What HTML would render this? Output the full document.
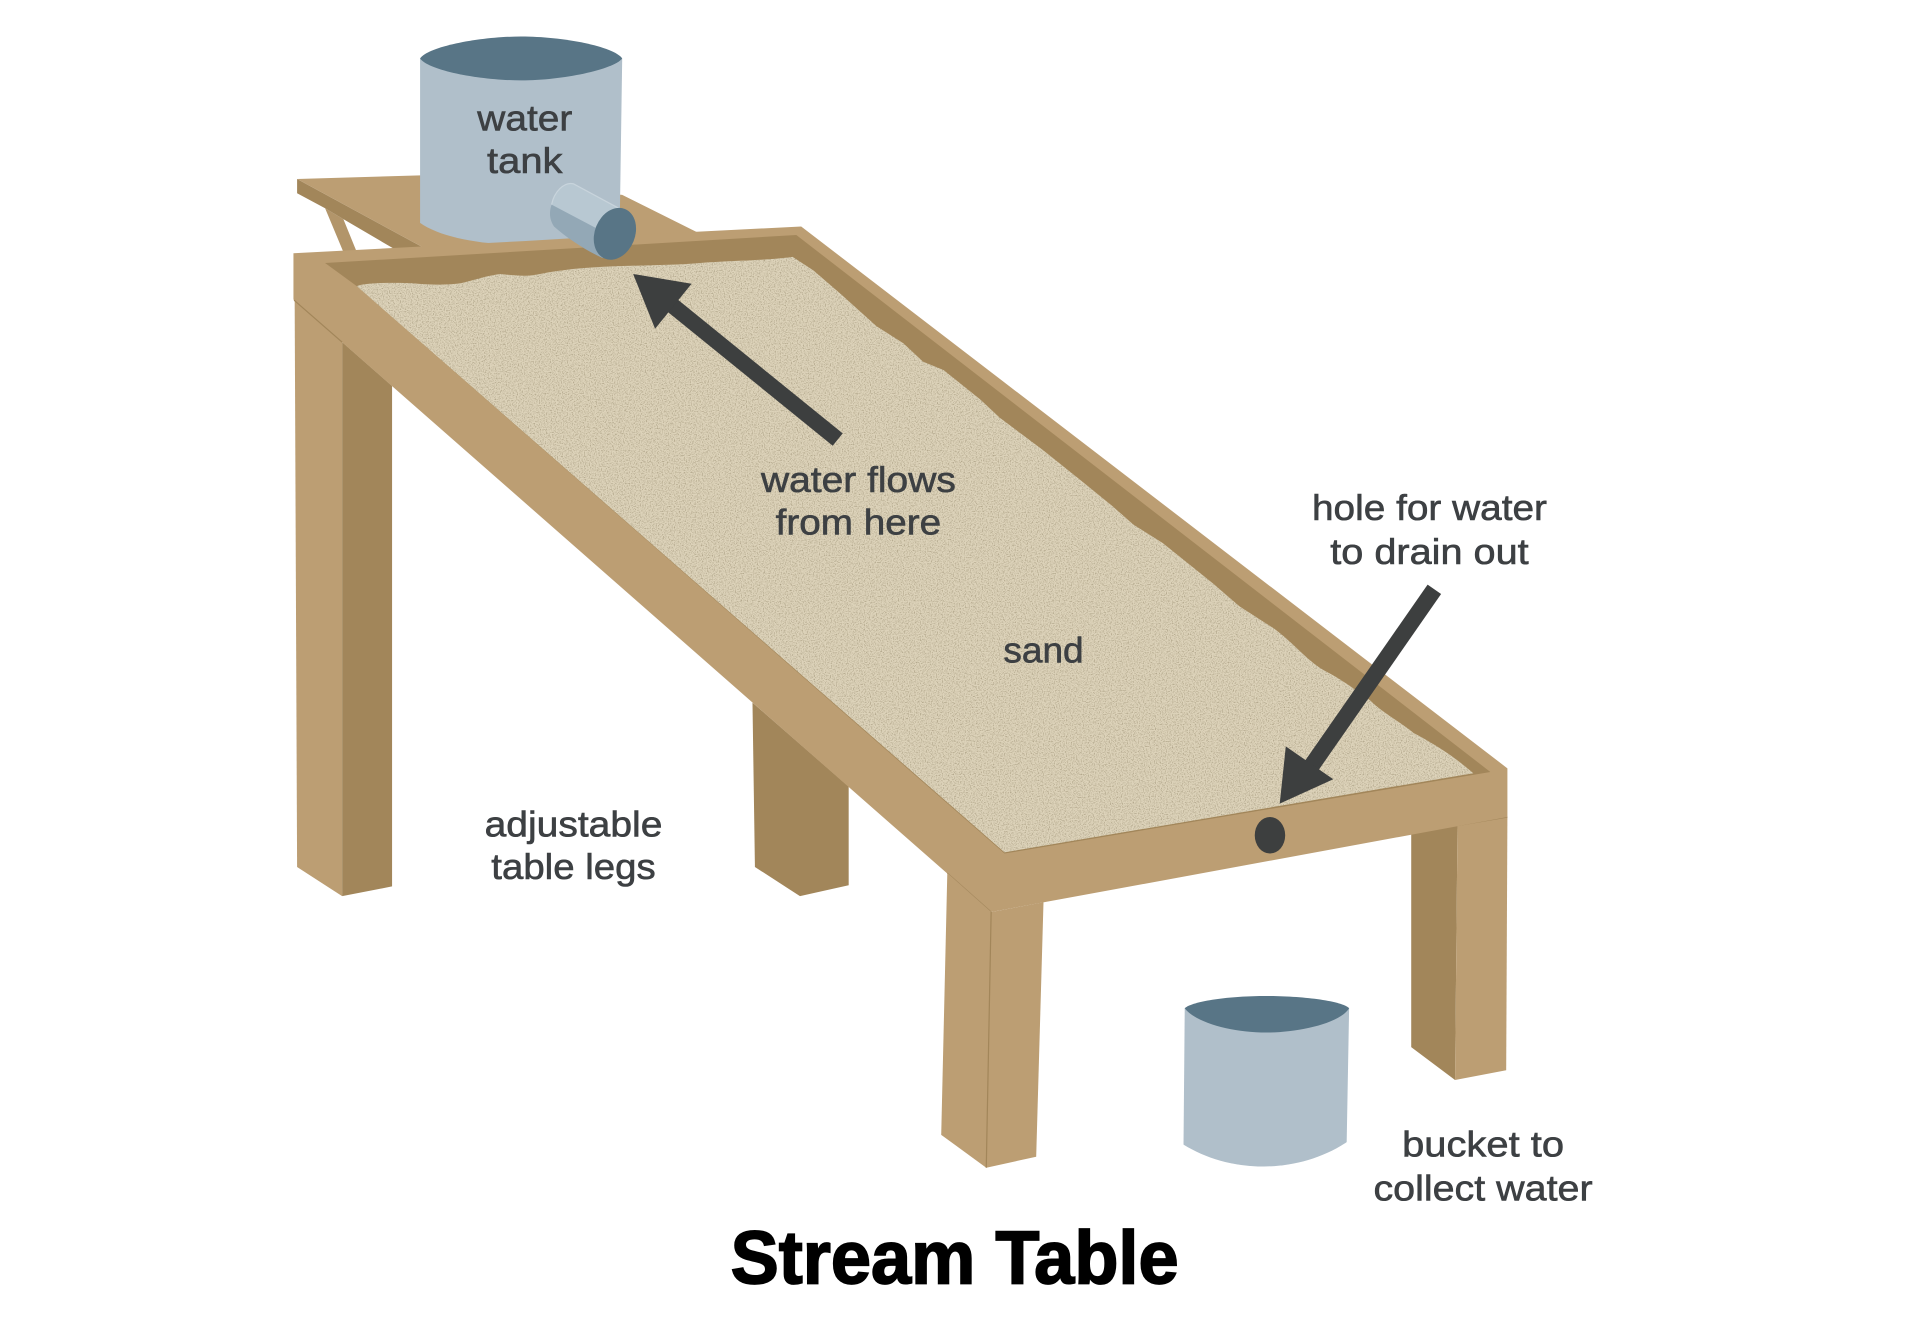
<!DOCTYPE html>
<html><head><meta charset="utf-8"><title>Stream Table</title>
<style>html,body{margin:0;padding:0;background:#fff}svg{display:block}
text{font-family:"Liberation Sans",sans-serif;fill:#3d4043;text-anchor:middle;font-size:30px;stroke:#3d4043;stroke-width:.5px}
</style></head><body>
<svg width="1908" height="1340" viewBox="0 0 1567 1100.5" xmlns="http://www.w3.org/2000/svg">
<defs>
<filter id="sand" x="0" y="0" width="100%" height="100%" color-interpolation-filters="sRGB">
<feTurbulence type="fractalNoise" baseFrequency="1.0" numOctaves="2" seed="4" result="n"/>
<feColorMatrix in="n" type="matrix" values="0 0 0 0 .45  0 0 0 0 .40  0 0 0 0 .28  1.3 0 0 0 -.60" result="d"/>
<feComposite in="d" in2="SourceAlpha" operator="in" result="dc"/>
<feMerge><feMergeNode in="SourceGraphic"/><feMergeNode in="dc"/></feMerge>
</filter>
</defs>
<rect width="1567" height="1100.5" fill="#fff"/>

<!-- platform with strut -->
<polygon points="267,171 282,180 293,207 282,207" fill="#b2956a"/>
<polygon points="244,147 244,158.7 267,171 282,180 323,204 347,203" fill="#a2865a"/>
<polygon points="244,147 345,144 511,160 575,192 480,205 347,203" fill="#bc9e73"/>

<!-- legs back -->
<polygon points="242,246 281,281 281,736 244,712" fill="#bc9e73"/>
<polygon points="281,281 322,317 322,728 281,736" fill="#a2865a"/>
<polygon points="618,577 697,646 697,727 657,736 620,712" fill="#a2865a"/>
<polygon points="1159,685 1197,678 1195,887 1159,860" fill="#a2865a"/>
<polygon points="1197,678 1238,671 1237,879 1195,887" fill="#bc9e73"/>
<line x1="1197" y1="678" x2="1238" y2="671" stroke="#a2865a" stroke-width="1"/>

<!-- tank -->
<path d="M345,48 L511,48 L509,182 C490,195 460,201 430,201 C395,201 362,195 345,183 Z" fill="#b0bfca"/>
<path d="M345,48 C352,38 395,30 428,30 C462,30 504,38 511,48 C504,57 462,66 428,66 C395,66 352,58 345,48 Z" fill="#587586"/>

<!-- frame -->
<polygon points="241,208 430,198 480,195 658,186 1238,631 1238,671 814,749 241,246" fill="#bc9e73"/>
<polygon points="267,216 654,193 1224,634 825,701 293,235" fill="#a2865a"/>
<path d="M293,235 C300,232 325,232 339,232.6 C352,234 365,234 375,233 C385,232 395,227 411,225 C420,226 430,227 437,226 C445,225 452,223 462,222 C500,217 540,219 575,216 C600,214 630,214 651,211 L668,222 L690,241 L720,268 L742,282 L758,297 L775,304 L805,328 L821,343 L857,370 L887,394 L914,416 L931,431 L955,446 L996,479 L1018,498 L1046,516 C1065,530 1075,545 1092,553 C1105,560 1115,568 1125,575 C1135,585 1150,593 1161,602 C1180,612 1195,622 1210,635 L825,700 Z" fill="#ddd3ba" filter="url(#sand)"/>
<line x1="241.5" y1="246.5" x2="281" y2="281" stroke="#a2865a" stroke-width="1"/>
<line x1="814" y1="749" x2="778" y2="717" stroke="#a68a5f" stroke-width="1"/>

<!-- front left leg -->
<polygon points="778,717 814,749 810,959 773,932" fill="#bc9e73"/>
<polygon points="814,749 857,741 851,950 810,959" fill="#bc9e73"/>
<line x1="814" y1="749" x2="810" y2="959" stroke="#a2865a" stroke-width="1"/>

<!-- pipe -->
<path d="M453,168 C455,158 463,149 471,151 L510,172 L495,212 C480,205 465,195 455,186 C451,180 451,174 453,168 Z" fill="#93a8b6"/>
<path d="M453,168 C455,158 463,149 471,151 L510,172 L489,187 Z" fill="#b8c8d2"/>
<path d="M453,168 C455,158 463,149 471,151 L510,172" fill="none" stroke="#c8d4dc" stroke-width="1"/>
<ellipse cx="505" cy="192" rx="16.5" ry="22" transform="rotate(22 505 192)" fill="#587586"/>

<!-- hole -->
<ellipse cx="1043" cy="686" rx="12.5" ry="15" fill="#3d3f3f"/>

<!-- arrows -->
<line x1="688" y1="361" x2="545" y2="245" stroke="#3d3f3f" stroke-width="13"/>
<polygon points="520,225 568,233 538,270" fill="#3d3f3f"/>
<line x1="1178" y1="484" x2="1075" y2="632" stroke="#3d3f3f" stroke-width="13.5"/>
<polygon points="1051,660 1056,613 1095,640" fill="#3d3f3f"/>

<!-- bucket -->
<path d="M973,828 L1108,828 L1106,938 C1085,952 1060,958 1038,958 C1012,958 990,951 972,940 Z" fill="#b0bfca"/>
<path d="M973,828 C980,822 1010,818 1040,818 C1070,818 1102,822 1108,828 C1100,841 1065,848 1040,848 C1012,848 982,840 973,828 Z" fill="#587586"/>

<!-- labels -->
<text x="431" y="107" textLength="78" lengthAdjust="spacingAndGlyphs">water</text>
<text x="431" y="142" textLength="62" lengthAdjust="spacingAndGlyphs">tank</text>
<text x="705" y="404" textLength="160" lengthAdjust="spacingAndGlyphs">water flows</text>
<text x="705" y="439" textLength="136" lengthAdjust="spacingAndGlyphs">from here</text>
<text x="1174" y="427" textLength="193" lengthAdjust="spacingAndGlyphs">hole for water</text>
<text x="1174" y="463" textLength="163" lengthAdjust="spacingAndGlyphs">to drain out</text>
<text x="857" y="544" textLength="66" lengthAdjust="spacingAndGlyphs">sand</text>
<text x="471" y="687" textLength="146" lengthAdjust="spacingAndGlyphs">adjustable</text>
<text x="471" y="722" textLength="135" lengthAdjust="spacingAndGlyphs">table legs</text>
<text x="1218" y="950" textLength="133" lengthAdjust="spacingAndGlyphs">bucket to</text>
<text x="1218" y="986" textLength="180" lengthAdjust="spacingAndGlyphs">collect water</text>
<text x="784" y="1054" textLength="368" lengthAdjust="spacingAndGlyphs" style="font-size:62px;font-weight:bold;fill:#000;stroke:#000;stroke-width:1.4px">Stream Table</text>
</svg>
</body></html>
